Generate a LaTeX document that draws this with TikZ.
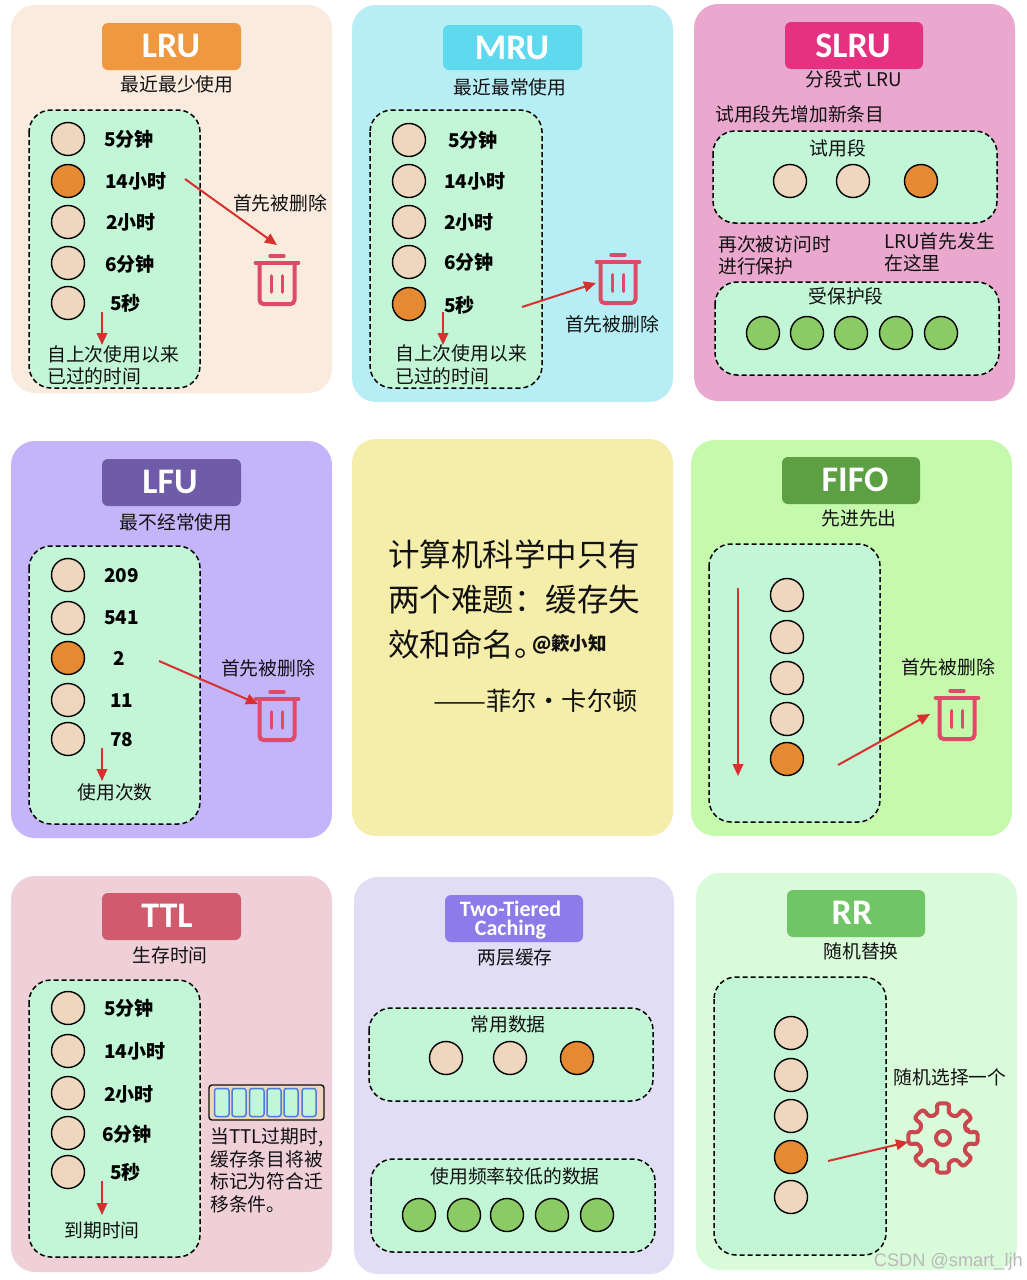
\documentclass[tikz,border=0pt]{standalone}
\usepackage{graphicx}
\usepackage{fontspec}
\setmainfont{Noto Sans CJK SC}
\newfontfamily\titlefont{Carlito}
\newfontfamily\markfont{Liberation Sans}
\usetikzlibrary{arrows.meta}
\definecolor{beige}{HTML}{EFD7BF}
\definecolor{orng}{HTML}{E58A32}
\definecolor{grn}{HTML}{8BCB65}
\definecolor{panelgreen}{HTML}{C2F6D6}
\definecolor{redline}{HTML}{D8302F}
\definecolor{binred}{HTML}{DE4A68}
\definecolor{gearred}{HTML}{C9484F}
\definecolor{ink}{HTML}{111111}
\definecolor{cellblue}{HTML}{4A7DDC}
\tikzset{
  card/.style={rounded corners=24pt,draw=none},
  titlebox/.style={rounded corners=6pt,draw=none},
  titletxt/.style={text=white,inner sep=0pt,font=\titlefont\bfseries\fontsize{36}{36}\selectfont},
  panel/.style={rounded corners=22pt,draw=black,fill=panelgreen,line width=1.5pt,dash pattern=on 5pt off 3pt},
  disc/.style={circle,draw=black,line width=1.4pt,minimum size=33pt,inner sep=0pt},
  txt/.style={inner sep=0pt,yshift=-0.7pt,text=ink,font=\fontsize{18.8}{22}\selectfont},
  val/.style={inner sep=0pt,yshift=-0.7pt,anchor=west,text=black,font=\bfseries\fontsize{19}{22}\selectfont},
  redarrow/.style={draw=redline,line width=2pt,-{Triangle[length=12pt,width=10.5pt]}},
  trash/.pic={
    \draw[binred,line width=4pt,line cap=round,rounded corners=4pt]
      (-17.5,-17) -- (-17.5,24) -- (17.5,24) -- (17.5,-17);
    \draw[binred,line width=3.6pt,line cap=round] (-21.5,-17) -- (21.5,-17);
    \draw[binred,line width=3.4pt,line cap=round] (-7,-24) -- (7,-24);
    \draw[binred,line width=3.8pt,line cap=round] (-5.5,-4) -- (-5.5,12);
    \draw[binred,line width=3.8pt,line cap=round] (5.5,-4) -- (5.5,12);
  },
}
\newcommand{\cdisc}[4]{\node[disc,fill=#4] (#1) at (#2,#3) {};}
\newcommand{\tx}[5][]{\node[txt,#1] (#2) at (#3,#4) {#5};}
\newcommand{\valtx}[4]{\node[val] (#1) at (#2,#3) {#4};}
\newcommand{\cardbox}[6]{\definecolor{tmpc}{HTML}{#6}\fill[card,fill=tmpc] (#2,#3) rectangle (#4,#5) node[pos=.5,inner sep=0pt] (#1) {};}
\newcommand{\titlebar}[6]{\definecolor{tmpc}{HTML}{#6}\fill[titlebox,fill=tmpc] (#2,#3) rectangle (#4,#5) node[pos=.5,inner sep=0pt] (#1) {};}
\newcommand{\panelbox}[5]{\draw[panel] (#2,#3) rectangle (#4,#5) node[pos=.5,inner sep=0pt] (#1) {};}
\newcommand{\redarr}[5]{\coordinate (#1a) at (#2,#3); \coordinate (#1b) at (#4,#5); \draw[redarrow] (#1a) -- (#1b);}
\begin{document}
\begin{tikzpicture}[x=1pt,y=-1pt]
\useasboundingbox (0,0) rectangle (1027,1280);
\fill[white] (0,0) rectangle (1027,1280);

% ---------- LRU
\cardbox{cA}{11}{5}{332}{393}{FAEBDF}
\titlebar{tA}{102}{23}{241}{70}{F0983F}
\node[titletxt] (tAt) at (171,46) {LRU};
\tx{sA}{177}{84}{最近最少使用}
\panelbox{pA}{29}{110}{200}{388}
\cdisc{a1}{68}{139}{beige}\cdisc{a2}{68}{181}{orng}\cdisc{a3}{68}{222}{beige}\cdisc{a4}{68}{263}{beige}\cdisc{a5}{68}{303}{beige}
\valtx{av1}{104}{139}{5分钟}\valtx{av2}{105}{181}{14小时}\valtx{av3}{106}{222}{2小时}\valtx{av4}{105}{264}{6分钟}\valtx{av5}{110}{303}{5秒}
\redarr{ad}{102}{312}{102}{345}
\tx[anchor=west]{an1}{47}{354}{自上次使用以来}
\tx[anchor=west]{an2}{47}{376}{已过的时间}
\redarr{ax}{185}{179}{277}{245}
\tx{al}{280}{203}{首先被删除}
\pic (binA) at (277,280) {trash};

% ---------- MRU
\cardbox{cB}{352}{5}{673}{402}{B7EEF5}
\titlebar{tB}{443}{25}{582}{70}{5FD9EE}
\node[titletxt] (tBt) at (512,48) {MRU};
\tx{sB}{510}{87}{最近最常使用}
\panelbox{pB}{370}{110}{542}{388}
\cdisc{b1}{409}{140}{beige}\cdisc{b2}{409}{181}{beige}\cdisc{b3}{409}{222}{beige}\cdisc{b4}{409}{262}{beige}\cdisc{b5}{409}{304}{orng}
\valtx{bv1}{448}{140}{5分钟}\valtx{bv2}{444}{181}{14小时}\valtx{bv3}{444}{222}{2小时}\valtx{bv4}{444}{262}{6分钟}\valtx{bv5}{444}{305}{5秒}
\redarr{bd}{443}{312}{443}{345}
\tx[anchor=west]{bn1}{395}{353}{自上次使用以来}
\tx[anchor=west]{bn2}{395}{376}{已过的时间}
\redarr{bx}{522}{307}{596}{283}
\tx{bl}{612}{324}{首先被删除}
\pic (binB) at (618,279) {trash};

% ---------- SLRU
\cardbox{cC}{694}{4}{1015}{401}{EAA8CE}
\titlebar{tC}{785}{22}{923}{69}{E5317F}
\node[titletxt] (tCt) at (853,46) {SLRU};
\tx{sC}{854}{79}{分段式 LRU}
\tx[anchor=west]{cn0}{715}{114}{试用段先增加新条目}
\panelbox{pC1}{713}{131}{997}{223}
\tx{cl1}{838}{148}{试用段}
\cdisc{c1}{790}{181}{beige}\cdisc{c2}{853}{181}{beige}\cdisc{c3}{921}{181}{orng}
\tx[anchor=west]{cn1}{718}{244}{再次被访问时}
\tx[anchor=west]{cn2}{718}{266}{进行保护}
\tx[anchor=west]{cn3}{884}{241}{LRU首先发生}
\tx[anchor=west]{cn4}{884}{263}{在这里}
\panelbox{pC2}{715}{282}{999}{375}
\tx{cl2}{846}{296}{受保护段}
\cdisc{c4}{763}{333}{grn}\cdisc{c5}{807}{333}{grn}\cdisc{c6}{851}{333}{grn}\cdisc{c7}{896}{333}{grn}\cdisc{c8}{941}{333}{grn}

% ---------- LFU
\cardbox{cD}{11}{441}{332}{838}{C4B5FB}
\titlebar{tD}{102}{459}{241}{506}{6F5CA8}
\node[titletxt] (tDt) at (170,482) {LFU};
\tx{sD}{176}{522}{最不经常使用}
\panelbox{pD}{29}{546}{200}{824}
\cdisc{d1}{68}{575}{beige}\cdisc{d2}{68}{618}{beige}\cdisc{d3}{68}{658}{orng}\cdisc{d4}{68}{700}{beige}\cdisc{d5}{68}{739}{beige}
\valtx{dv1}{104}{575}{209}\valtx{dv2}{104}{617}{541}\valtx{dv3}{113}{658}{2}\valtx{dv4}{110}{700}{11}\valtx{dv5}{110}{739}{78}
\redarr{dd}{102}{748}{102}{781}
\tx{dn}{115}{792}{使用次数}
\redarr{dx}{159}{661}{258}{704}
\tx{dl}{268}{668}{首先被删除}
\pic (binD) at (277,716) {trash};

% ---------- Quote
\cardbox{cE}{352}{439}{673}{836}{F5EEAB}
\node[txt,anchor=west,font=\fontsize{31.5}{36}\selectfont] (q1) at (388,554) {计算机科学中只有};
\node[txt,anchor=west,font=\fontsize{31.5}{36}\selectfont] (q2) at (388,599) {两个难题：缓存失};
\node[txt,anchor=west,font=\fontsize{31.5}{36}\selectfont] (q3) at (388,644) {效和命名\makebox[15pt][l]{。}};
\node[txt,anchor=west,font=\bfseries\fontsize{18.5}{22}\selectfont] (q4) at (532,644) {@簌小知};
\node[txt,anchor=east,font=\fontsize{25.3}{30}\selectfont] (q5) at (638,700) {\scalebox{1.25}[1]{——}菲尔·卡尔顿};

% ---------- FIFO
\cardbox{cF}{691}{440}{1012}{836}{C5F9AC}
\titlebar{tF}{782}{457}{920}{504}{5DA044}
\node[titletxt] (tFt) at (855,480) {FIFO};
\tx{sF}{859}{518}{先进先出}
\panelbox{pF}{709}{544}{880}{822}
\cdisc{f1}{787}{595}{beige}\cdisc{f2}{787}{637}{beige}\cdisc{f3}{787}{678}{beige}\cdisc{f4}{787}{719}{beige}\cdisc{f5}{787}{759}{orng}
\redarr{fd}{738}{588}{738}{776}
\redarr{fx}{838}{765}{930}{714}
\tx{fl}{948}{667}{首先被删除}
\pic (binF) at (957,715) {trash};

% ---------- TTL
\cardbox{cG}{11}{876}{332}{1272}{EFD0D8}
\titlebar{tG}{102}{893}{241}{940}{CF5B6C}
\node[titletxt] (tGt) at (167,916) {TTL};
\tx{sG}{170}{955}{生存时间}
\panelbox{pG}{29}{980}{200}{1257}
\cdisc{g1}{68}{1008}{beige}\cdisc{g2}{68}{1051}{beige}\cdisc{g3}{68}{1093}{beige}\cdisc{g4}{68}{1133}{beige}\cdisc{g5}{68}{1172}{beige}
\valtx{gv1}{104}{1008}{5分钟}\valtx{gv2}{104}{1051}{14小时}\valtx{gv3}{104}{1094}{2小时}\valtx{gv4}{102}{1134}{6分钟}\valtx{gv5}{110}{1172}{5秒}
\redarr{gd}{102}{1181}{102}{1215}
\tx{gn}{102}{1230}{到期时间}
\draw[draw=ink,fill=beige,line width=1.4pt,rounded corners=3pt] (209,1085) rectangle (324,1120);
\foreach \l/\r in {214.5/229,232/246,249.5/264,267/281,284/298,302/316}
  \draw[draw=cellblue,fill=panelgreen,line width=1.5pt,rounded corners=2.5pt] (\l,1088.5) rectangle (\r,1116.5);
\tx[anchor=west]{gt1}{210}{1137}{当TTL过期时,}
\tx[anchor=west]{gt2}{210}{1159}{缓存条目将被}
\tx[anchor=west]{gt3}{210}{1181}{标记为符合迁}
\tx[anchor=west]{gt4}{210}{1204}{移条件。}

% ---------- Two-tiered
\cardbox{cH}{354}{877}{674}{1274}{E0DDF4}
\titlebar{tH}{445}{895}{583}{942}{8C7BE8}
\node[titletxt,align=center,font=\titlefont\bfseries\fontsize{22}{19.5}\selectfont] (tHa) at (510.5,920) {Two-Tiered\\Caching};
\tx{sH}{515}{957}{两层缓存}
\panelbox{pH1}{369}{1008}{653}{1101}
\tx{hl1}{508}{1024}{常用数据}
\cdisc{h1}{446}{1058}{beige}\cdisc{h2}{510}{1058}{beige}\cdisc{h3}{577}{1058}{orng}
\panelbox{pH2}{371}{1159}{655}{1252}
\tx{hl2}{515}{1176}{使用频率较低的数据}
\cdisc{h4}{419}{1215}{grn}\cdisc{h5}{464}{1215}{grn}\cdisc{h6}{507}{1215}{grn}\cdisc{h7}{552}{1215}{grn}\cdisc{h8}{597}{1215}{grn}

% ---------- RR
\cardbox{cI}{696}{873}{1017}{1270}{DAFBDA}
\titlebar{tI}{787}{890}{925}{937}{70C566}
\node[titletxt] (tIt) at (852,913) {RR};
\tx{sI}{861}{951}{随机替换}
\panelbox{pI}{714}{977}{886}{1255}
\cdisc{i1}{791}{1033}{beige}\cdisc{i2}{791}{1075}{beige}\cdisc{i3}{791}{1116}{beige}\cdisc{i4}{791}{1157}{orng}\cdisc{i5}{791}{1197}{beige}
\tx{il}{950}{1077}{随机选择一个}
\begin{scope}[shift={(943,1138)}]
  \draw[gearred,line width=4pt,rounded corners=4.5pt,line join=round]
    (-10:25)
    \foreach \a in {0,45,...,315}{
      -- ({\a-10}:25) -- ({\a-12}:35.5) -- ({\a+12}:35.5) -- ({\a+10}:25)
    } -- cycle;
  \draw[gearred,line width=4pt] (0,0) circle (7);
\end{scope}
\redarr{ix}{828}{1161}{908}{1142}

% ---------- Watermark
\node[inner sep=0pt,anchor=east,text=black!28,font=\markfont\fontsize{18.2}{22}\selectfont] (wm) at (1023,1262) {CSDN @smart\_ljh};
\end{tikzpicture}
\end{document}
